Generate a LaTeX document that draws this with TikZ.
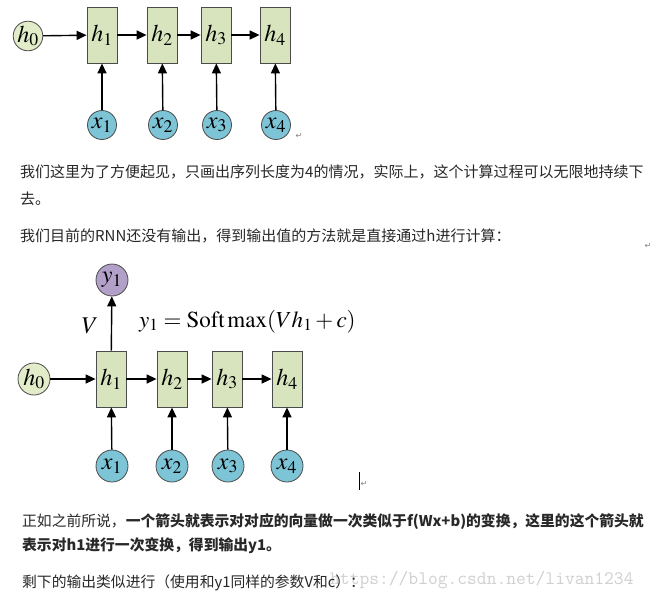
\documentclass[tikz,border=0pt]{standalone}
\usepackage{mathptmx}
\usepackage[no-math]{fontspec}
\setmainfont{Noto Sans CJK SC}
\newfontfamily\markfont{DejaVu Sans}
\usetikzlibrary{arrows.meta}
\usetikzlibrary{positioning}
\definecolor{boxgreen}{RGB}{216,228,190}
\definecolor{lightblue}{RGB}{124,196,214}
\definecolor{lightpurple}{RGB}{178,160,200}
\definecolor{lightyellow}{RGB}{226,236,200}
\definecolor{linegray}{RGB}{75,75,75}
\definecolor{textgray}{RGB}{40,40,40}
\definecolor{wmgray}{RGB}{208,208,208}
\newcommand{\diafont}{\fontsize{24}{24}\selectfont}
\newcommand{\bodyfont}{\fontsize{15}{15}\selectfont}
\newcommand{\smallbody}{\fontsize{14.8}{14.8}\selectfont}

\begin{document}
\begin{tikzpicture}[x=1pt,y=-1pt]
        \tikzset{hbox/.style={rectangle, draw=linegray, thick, fill=boxgreen,
                        minimum width=30pt, minimum height=56pt, inner sep=0pt, font=\diafont},
                hcirc/.style={circle, draw=linegray, thick, fill=lightyellow,
                        minimum size=30pt, inner sep=0pt, font=\diafont},
                xcirc/.style={hcirc, fill=lightblue},
                ycirc/.style={hcirc, fill=lightpurple},
                txt/.style={anchor=base west, inner sep=0pt, text=textgray},
                retmark/.style={inner sep=0pt, text=gray, font=\markfont\fontsize{8}{8}\selectfont},
                >={Triangle[length=10pt,width=9pt]},
                every edge/.style={draw=black, line width=1.4pt}}

        \useasboundingbox[fill=white] (0,0) rectangle (653,598);

        % first chain
        \node[hcirc, minimum size=28pt] (h0) at (28, 36) {$h_0$};
        \node[hbox] (h1) at (102, 35) {$h_1$};
        \node[hbox] (h2) at (162, 35) {$h_2$};
        \node[hbox] (h3) at (216, 35) {$h_3$};
        \node[hbox] (h4) at (275, 35) {$h_4$};
        \node[xcirc, minimum size=29pt] (x1) at (102, 125) {$x_1$};
        \node[xcirc, minimum size=29pt] (x2) at (163, 125) {$x_2$};
        \node[xcirc, minimum size=29pt] (x3) at (217, 125) {$x_3$};
        \node[xcirc, minimum size=29pt] (x4) at (276, 125) {$x_4$};
        \node[retmark] (r1) at (299, 136) {↵};

        \path [->] (h0) edge (h1);
        \path [->] (h1) edge (h2);
        \path [->] (h2) edge (h3);
        \path [->] (h3) edge (h4);
        \path [->] (x1) edge (h1);
        \path [->] (x2) edge (h2);
        \path [->] (x3) edge (h3);
        \path [->] (x4) edge (h4);

        % text in between
        \node[txt, font=\bodyfont] (l1) at (20, 177) {我们这里为了方便起见，只画出序列长度为4的情况，实际上，这个计算过程可以无限地持续下};
        \node[txt, font=\bodyfont] (l2) at (20, 204) {去。};
        \node[txt, font=\bodyfont] (l3) at (20, 241) {我们目前的RNN还没有输出，得到输出值的方法就是直接通过h进行计算：};
        \node[retmark] (r2) at (648, 246) {↵};

        % second chain with output
        \node[ycirc, minimum size=32pt] (y1) at (112, 280) {$y_1$};
        \node[hcirc, minimum size=32pt] (g0) at (34, 379) {$h_0$};
        \node[hbox] (g1) at (111, 379) {$h_1$};
        \node[hbox] (g2) at (172, 379) {$h_2$};
        \node[hbox] (g3) at (227, 379) {$h_3$};
        \node[hbox] (g4) at (287, 379) {$h_4$};
        \node[xcirc, minimum size=32pt] (u1) at (112, 466) {$x_1$};
        \node[xcirc, minimum size=32pt] (u2) at (172, 466) {$x_2$};
        \node[xcirc, minimum size=32pt] (u3) at (228, 466) {$x_3$};
        \node[xcirc, minimum size=32pt] (u4) at (287, 466) {$x_4$};
        \node[anchor=base, inner sep=0pt, font=\diafont] (V) at (90, 333) {$V$};
        \node[anchor=base west, inner sep=0pt, font=\fontsize{23}{23}\selectfont] (soft) at (139, 327) {$y_1 = \mathrm{Soft}\max(Vh_1 + c)$};
        \node[retmark] (r3) at (364, 484) {↵};
        \draw[line width=1pt] (359, 472) -- (359, 490);

        \path [->] (g1) edge (y1);
        \path [->] (g0) edge (g1);
        \path [->] (g1) edge (g2);
        \path [->] (g2) edge (g3);
        \path [->] (g3) edge (g4);
        \path [->] (u1) edge (g1);
        \path [->] (u2) edge (g2);
        \path [->] (u3) edge (g3);
        \path [->] (u4) edge (g4);

        % text below
        \node[anchor=base west, inner sep=0pt, text=wmgray, font=\ttfamily\fontsize{19}{19}\selectfont] (wm) at (330, 584) {https://blog.csdn.net/livan1234};
        \node[txt, font=\smallbody] (l4) at (22, 526) {正如之前所说，\textbf{一个箭头就表示对对应的向量做一次类似于f(Wx+b)的变换，这里的这个箭头就}};
        \node[txt, font=\smallbody] (l5) at (22, 550) {\textbf{表示对h1进行一次变换，得到输出y1。}};
        \node[txt, font=\smallbody] (l6) at (22, 587) {剩下的输出类似进行（使用和y1同样的参数V和c）：};

    \end{tikzpicture}
\end{document}
